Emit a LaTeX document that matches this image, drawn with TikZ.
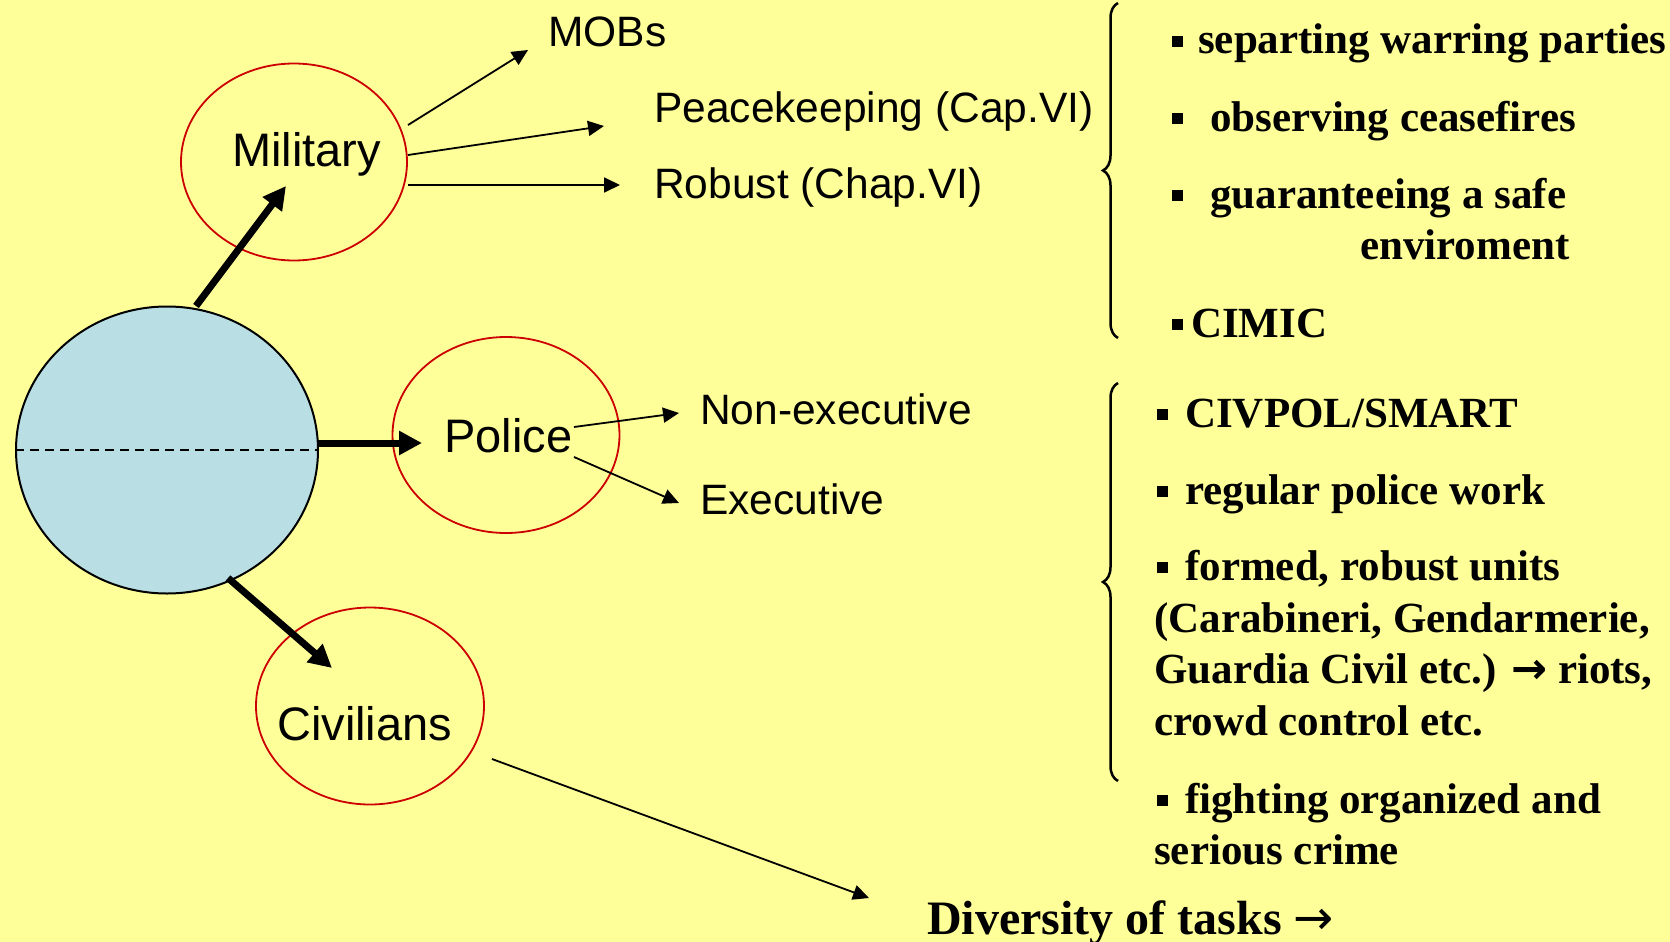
\documentclass[tikz,border=0pt]{standalone}
\usepackage{fontspec}
\newfontfamily\arialf{Liberation Sans}
\newfontfamily\tnrf{Liberation Serif}
\newfontfamily\arrowf{DejaVu Sans}
\usetikzlibrary{shapes.geometric,arrows.meta,decorations.pathreplacing}
\definecolor{bgyellow}{RGB}{255,255,153}
\definecolor{coreblue}{RGB}{185,223,229}
\definecolor{ringred}{RGB}{204,0,0}
\newcommand\bul{\raisebox{7pt}{\rule{11pt}{11pt}}}
\begin{document}
\begin{tikzpicture}[x=1pt,y=-1pt,
  ring/.style={ellipse, draw=ringred, line width=1.8pt, inner sep=0pt},
  corestyle/.style={ellipse, draw=black, fill=coreblue, line width=2pt, inner sep=0pt},
  lbl/.style={anchor=base west, inner sep=0pt, font=\arialf\fontsize{42.5pt}{48pt}\selectfont},
  biglbl/.style={anchor=base west, inner sep=0pt, font=\arialf\fontsize{47pt}{54pt}\selectfont},
  item/.style={anchor=base west, inner sep=0pt, font=\tnrf\bfseries\fontsize{43pt}{49pt}\selectfont},
  thickarrow/.style={line width=7pt, -{Triangle[length=23pt,width=23pt]}},
  thinarrow/.style={line width=1.8pt, -{Triangle[length=16pt,width=15pt]}},
  bracestyle/.style={decorate, decoration={brace, amplitude=15pt}, line width=2.5pt},
]
\fill[bgyellow] (0,0) rectangle (1670,942);
\useasboundingbox (0,0) rectangle (1670,942);

% ellipses
\node[corestyle, minimum width=302pt, minimum height=287pt] (core) at (167,450) {};
\draw[line width=1.5pt, dash pattern=on 9pt off 6pt] (core.west) -- (core.east);
\node[ring, minimum width=226pt, minimum height=197pt] (mil) at (294,162) {};
\node[ring, minimum width=227pt, minimum height=196pt] (pol) at (506,435) {};
\node[ring, minimum width=228pt, minimum height=197pt] (civ) at (370,706) {};

% labels in ellipses
\node[biglbl] (miltxt) at (232,166) {Military};
\node[biglbl] (poltxt) at (444,452) {Police};
\node[biglbl] (civtxt) at (277,740) {Civilians};

% branch labels
\node[lbl] (mobs) at (548,47) {MOBs};
\node[lbl] (peace) at (654,122) {Peacekeeping (Cap.VI)};
\node[lbl] (robust) at (654,198) {Robust (Chap.VI)};
\node[lbl] (nonex) at (700,424) {Non-executive};
\node[lbl] (exec) at (700,514) {Executive};

% connector end points
\coordinate (cm) at (196,306);   \coordinate (mtip) at (286,186);
\coordinate (cp) at (318,443);   \coordinate (ptip) at (422,443);
\coordinate (cc) at (228,578);   \coordinate (ctip) at (332,668);
\coordinate (m1) at (408,125);   \coordinate (m1t) at (528,50);
\coordinate (m2) at (408,155);   \coordinate (m2t) at (604,126);
\coordinate (m3) at (408,185);   \coordinate (m3t) at (620,185);
\coordinate (p1) at (574,427);   \coordinate (p1t) at (679,413);
\coordinate (p2) at (574,457);   \coordinate (p2t) at (679,503);
\coordinate (c1) at (492,759);   \coordinate (c1t) at (869,898);

\draw[thickarrow] (cm) -- (mtip);
\draw[thickarrow] (cp) -- (ptip);
\draw[thickarrow] (cc) -- (ctip);
\draw[thinarrow] (m1) -- (m1t);
\draw[thinarrow] (m2) -- (m2t);
\draw[thinarrow] (m3) -- (m3t);
\draw[thinarrow] (p1) -- (p1t);
\draw[thinarrow] (p2) -- (p2t);
\draw[thinarrow] (c1) -- (c1t);

% braces
\draw[bracestyle] (1118,338) -- (1118,3);
\draw[bracestyle] (1118,781) -- (1118,383);

% military items
\node[item] (i1) at (1172,54) {\bul\hspace{15pt}separting warring parties};
\node[item] (i2) at (1172,131) {\bul\hspace{27pt}observing ceasefires};
\node[item] (i3) at (1172,208) {\bul\hspace{27pt}guaranteeing a safe};
\node[item] (i3b) at (1360,259) {enviroment};
\node[item] (i4) at (1172,337) {\bul\hspace{8pt}CIMIC};

% police items
\node[item] (q1) at (1157,427) {\bul\hspace{17pt}CIVPOL/SMART};
\node[item] (q2) at (1157,504) {\bul\hspace{17pt}regular police work};
\node[item] (q3) at (1157,580) {\bul\hspace{17pt}formed, robust units};
\node[item] (q3b) at (1154,632) {(Carabineri, Gendarmerie,};
\node[item] (q3c) at (1154,683) {Guardia Civil etc.) {\arrowf\bfseries →} riots,};
\node[item] (q3d) at (1154,735) {crowd control etc.};
\node[item] (q4) at (1157,813) {\bul\hspace{17pt}fighting organized and};
\node[item] (q4b) at (1154,864) {serious crime};

\node[item, font=\tnrf\bfseries\fontsize{48pt}{54pt}\selectfont] (div) at (927,934) {Diversity of tasks {\arrowf\mdseries →}};
\end{tikzpicture}
\end{document}
